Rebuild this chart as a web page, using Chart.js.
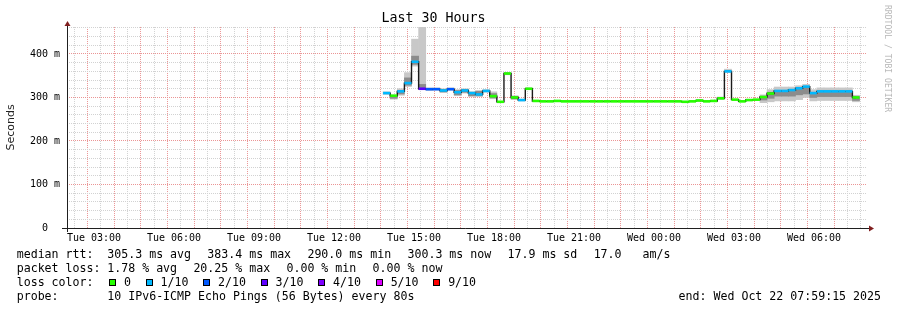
<!DOCTYPE html>
<html><head><meta charset="utf-8">
<script src="https://cdn.jsdelivr.net/npm/chart.js@4.4.1/dist/chart.umd.min.js"></script>
<style>
html,body{margin:0;padding:0;background:#fff;}
#wrap{position:relative;width:897px;height:310px;overflow:hidden;background:#fff;}
#c{position:absolute;left:0;top:0;}
.row{position:absolute;left:16.7px;font-family:'DejaVu Sans Mono',monospace;font-size:11.6px;line-height:14px;color:#000;white-space:pre;}
.row .h{display:inline-block;width:90.6px;}
.row .g{margin-left:16.3px;}
.row .lc{display:inline-block;width:92.3px;}
.sq{display:inline-block;width:7px;height:7px;box-sizing:border-box;border:1px solid #000;vertical-align:top;margin-top:3.9px;margin-left:14.6px;}
.sq.first{margin-left:0;}
.lab{margin-left:8px;}
#end{position:absolute;right:16px;top:289px;font-family:'DejaVu Sans Mono',monospace;font-size:11.6px;line-height:14px;white-space:pre;color:#000;}
#wm{position:absolute;left:892px;top:5px;transform-origin:0 0;transform:rotate(90deg);font-family:'DejaVu Sans Mono',monospace;font-size:8.1px;line-height:8px;color:#b8b8b8;white-space:pre;}
</style>
</head><body>
<div id="wrap">
<canvas id="c" width="897" height="310"></canvas>
<div class="row" style="top:247.3px"><span class="h">median rtt:</span><span>305.3 ms avg</span><span class="g">383.4 ms max</span><span class="g">290.0 ms min</span><span class="g">300.3 ms now</span><span class="g">17.9 ms sd</span><span class="g">17.0   am/s</span></div>
<div class="row" style="top:261.2px"><span class="h">packet loss:</span><span>1.78 % avg</span><span class="g">20.25 % max</span><span class="g">0.00 % min</span><span class="g">0.00 % now</span></div>
<div class="row" id="lossrow" style="top:275.1px"><span class="lc">loss color:</span></div>
<div class="row" style="top:289px"><span class="h">probe:</span><span>10 IPv6-ICMP Echo Pings (56 Bytes) every 80s</span></div>
<div id="end">end: Wed Oct 22 07:59:15 2025</div>
<div id="wm">RRDTOOL / TOBI OETIKER</div>
</div>
<script>
// ---------- data ----------
const START_HOUR = 13.84;      // first 16-minute step starts Tue 13:50 (hours since Tue 00:00)
const STEP_MINUTES = 16;
const VIEW_START = 1.9875;     // Tue 01:59:15
const VIEW_END = 31.9875;      // Wed 07:59:15

// median rtt per step (ms)
const median = [
  310, 304, 314, 333, 382, 320, 319, 319, 316, 319,
  312, 316, 310, 307, 315, 303, 290, 355, 300, 294,
  320, 292, 291, 291, 292, 291, 291, 291, 291, 291,
  291, 291, 291, 291, 291, 291, 291, 291, 291, 291,
  291, 291, 290, 291, 293, 291, 292, 298, 360, 295,
  291, 294, 295, 301, 309, 315, 315, 317, 321, 325,
  310, 314, 314, 314, 314, 314, 300
];
// packet loss per step, in tenths
const lossTenths = [
  1, 0, 1, 1, 1, 3, 2, 2, 1, 2,
  1, 1, 1, 1, 1, 0, 0, 0, 0, 1,
  0, 0, 0, 0, 0, 0, 0, 0, 0, 0,
  0, 0, 0, 0, 0, 0, 0, 0, 0, 0,
  0, 0, 0, 0, 0, 0, 0, 0, 1, 0,
  0, 0, 0, 0, 0, 1, 1, 1, 1, 1,
  1, 1, 1, 1, 1, 1, 0
];
// outer smoke (full spread of the pings) per step, ms
const smokeLo = [
  307, 296, 305, 325, 372, 318, 316, 317, 311, 317,
  304, 310, 302, 302, 312, 297, null, 352, 295, 292,
  318, null, null, null, null, null, null, null, null, null,
  null, null, null, null, null, null, null, null, null, null,
  null, null, null, null, null, null, null, 295, 357, null,
  null, null, null, 288, 290, 292, 292, 292, 295, 300,
  292, 293, 293, 293, 293, 293, 290
];
const smokeHi = [
  313, 306, 320, 357, 434, 480, 322, 322, 320, 322,
  318, 320, 313, 316, 318, 313, null, 357, 304, 296,
  322, null, null, null, null, null, null, null, null, null,
  null, null, null, null, null, null, null, null, null, null,
  null, null, null, null, null, null, null, 301, 365, null,
  null, null, null, 306, 318, 324, 324, 324, 327, 330,
  318, 322, 322, 322, 322, 322, 305
];
// inner smoke (central pings, darker) per step, ms
const smokeMidLo = [
  null, 298, 308, 328, 376, 319, null, null, 313, null,
  306, 312, 304, 304, null, 299, null, null, 297, null,
  null, null, null, null, null, null, null, null, null, null,
  null, null, null, null, null, null, null, null, null, null,
  null, null, null, null, null, null, null, null, null, null,
  null, null, null, 294, 298, 303, 303, 303, 306, 308,
  300, 302, 302, 302, 302, 302, 293
];
const smokeMidHi = [
  null, 304, 316, 345, 395, 330, null, null, 318, null,
  316, 318, 312, 314, null, 309, null, null, 302, null,
  null, null, null, null, null, null, null, null, null, null,
  null, null, null, null, null, null, null, null, null, null,
  null, null, null, null, null, null, null, null, null, null,
  null, null, null, 303, 312, 316, 316, 316, 320, 323,
  312, 314, 314, 314, 314, 314, 302
];

const lossLegendLabels = ['0', '1/10', '2/10', '3/10', '4/10', '5/10', '9/10'];
const lossLegendColors = ['#26ff00', '#00b8ff', '#0059ff', '#5e00ff', '#7e00ff', '#dd00ff', '#ff0000'];
const lossPalette = ['#26ff00', '#00b8ff', '#0059ff', '#5e00ff', '#7e00ff', '#dd00ff', '#dd00ff', '#dd00ff', '#dd00ff', '#ff0000', '#ff0000'];

const xTickHours = [3, 6, 9, 12, 15, 18, 21, 24, 27, 30];
const xTickLabels = ['Tue 03:00', 'Tue 06:00', 'Tue 09:00', 'Tue 12:00', 'Tue 15:00', 'Tue 18:00', 'Tue 21:00', 'Wed 00:00', 'Wed 03:00', 'Wed 06:00'];
const yMax = 462;

// ---------- legend row ----------
const lossRow = document.getElementById('lossrow');
lossLegendLabels.forEach((lab, i) => {
  const sq = document.createElement('span');
  sq.className = 'sq' + (i === 0 ? ' first' : '');
  sq.style.background = lossLegendColors[i];
  lossRow.appendChild(sq);
  const t = document.createElement('span');
  t.className = 'lab';
  t.textContent = lab;
  lossRow.appendChild(t);
});

// ---------- chart ----------
const stepH = STEP_MINUTES / 60;
const centerOf = k => START_HOUR + (k + 0.5) * stepH;
const medianPts = median.map((v, k) => ({x: centerOf(k), y: v}));
const bandPts = (lo, hi) => {
  const out = [];
  lo.forEach((l, k) => { if (l !== null && hi[k] !== null) out.push({x: centerOf(k), y: [l, hi[k]]}); });
  return out;
};
const segColors = lossTenths.map(l => lossPalette[l]);

const xLabelMap = {};
xTickHours.forEach((h, i) => xLabelMap[h] = xTickLabels[i]);

const RED = 'rgb(235,149,149)';
const GRAY = 'rgb(210,210,210)';
const isMajorX = v => Math.abs(v - Math.round(v)) < 1e-6;
const isMajorY = v => Math.abs(v % 100) < 1e-6;

const axisPlugin = {
  id: 'rrdAxes',
  afterDraw(chart) {
    const {ctx, chartArea: a} = chart;
    const L = Math.round(a.left) + 0.5, B = Math.round(a.bottom) + 0.5;
    ctx.save();
    ctx.lineWidth = 1;
    ctx.strokeStyle = 'rgb(31,31,31)';
    ctx.beginPath(); ctx.moveTo(a.left - 5, B); ctx.lineTo(a.right + 2, B); ctx.stroke();
    ctx.beginPath(); ctx.moveTo(L, a.bottom + 4); ctx.lineTo(L, a.top - 4); ctx.stroke();
    ctx.fillStyle = 'rgb(128,31,31)';
    ctx.beginPath(); ctx.moveTo(a.right + 2, B - 3); ctx.lineTo(a.right + 7, B); ctx.lineTo(a.right + 2, B + 3); ctx.closePath(); ctx.fill();
    ctx.beginPath(); ctx.moveTo(L - 3, a.top - 1); ctx.lineTo(L, a.top - 6); ctx.lineTo(L + 3, a.top - 1); ctx.closePath(); ctx.fill();
    ctx.restore();
  }
};

const halfStep = ctx => { const s = ctx.chart.scales.x; return (s.getPixelForValue(stepH) - s.getPixelForValue(0)) / 2; };

new Chart(document.getElementById('c'), {
  type: 'bar',
  data: {
    datasets: [
      {
        type: 'line', label: 'loss', data: medianPts, showLine: false, order: 0,
        pointStyle: 'line', pointRadius: halfStep, pointHoverRadius: halfStep,
        pointBorderWidth: 2.6, pointBorderColor: segColors, pointBackgroundColor: segColors
      },
      {
        type: 'line', label: 'median', data: medianPts, order: 1,
        stepped: 'middle', borderColor: '#1a1a1a', borderWidth: 1.4, pointRadius: 0, fill: false
      },
      {
        type: 'bar', label: 'smoke inner', data: bandPts(smokeMidLo, smokeMidHi), order: 2, grouped: false,
        backgroundColor: '#8c8c8c', borderWidth: 0, barPercentage: 1, categoryPercentage: 1
      },
      {
        type: 'bar', label: 'smoke', data: bandPts(smokeLo, smokeHi), order: 3, grouped: false,
        backgroundColor: '#c8c8c8', borderWidth: 0, barPercentage: 1, categoryPercentage: 1
      }
    ]
  },
  options: {
    animation: false, responsive: false, devicePixelRatio: 1,
    events: [],
    layout: {padding: {left: 0, right: 30, top: 0, bottom: 62}},
    plugins: {
      legend: {display: false}, tooltip: {enabled: false},
      title: {display: true, text: 'Last 30 Hours', color: '#000',
        font: {family: 'DejaVu Sans Mono', size: 13.3, weight: 'normal'}, padding: {top: 11, bottom: 0}}
    },
    scales: {
      x: {
        type: 'linear', min: VIEW_START, max: VIEW_END, offset: false,
        afterBuildTicks: s => { const t = []; for (let h = 2; h <= 31.5; h += 0.5) t.push({value: h}); s.ticks = t; },
        afterFit: s => { s.height = 20; },
        ticks: {autoSkip: false, maxRotation: 0, minRotation: 0, padding: 4, color: '#000',
          font: {family: 'DejaVu Sans Mono', size: 10},
          callback: v => xLabelMap[v] || ''},
        grid: {drawTicks: false, lineWidth: 1, color: c => (c.tick && isMajorX(c.tick.value)) ? RED : GRAY},
        border: {display: false, dash: [1, 1]}
      },
      y: {
        min: 0, max: yMax,
        afterBuildTicks: s => { const t = []; for (let v = 0; v <= 460; v += 20) t.push({value: v}); s.ticks = t; },
        afterFit: s => { s.width = 67; },
        ticks: {autoSkip: false, padding: 7, color: '#000',
          font: {family: 'DejaVu Sans Mono', size: 10},
          callback: v => v % 100 === 0 ? (v === 0 ? '0  ' : v + ' m') : ''},
        grid: {drawTicks: false, lineWidth: 1, color: c => (c.tick && isMajorY(c.tick.value)) ? RED : GRAY},
        border: {display: false, dash: [1, 1]},
        title: {display: true, text: 'Seconds', color: '#222',
          font: {family: 'DejaVu Sans', size: 11}, padding: {top: 4.4, bottom: 0}}
      }
    }
  },
  plugins: [axisPlugin]
});
</script>
</body></html>
